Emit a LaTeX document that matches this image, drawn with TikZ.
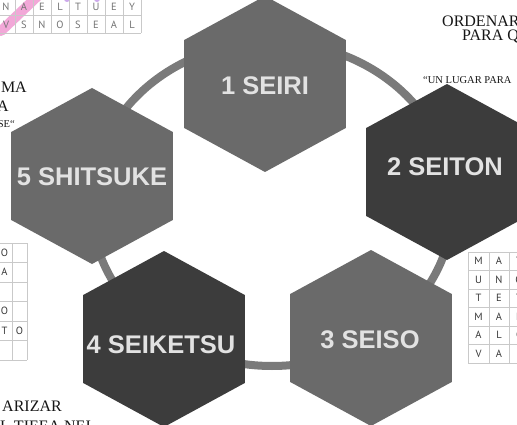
\documentclass[tikz,border=0pt]{standalone}
\usepackage{fontspec}
\setmainfont{Liberation Serif}
\setsansfont{Liberation Sans}
\newfontfamily\gridfont{PT Sans}
\usepackage{xcolor}
\usetikzlibrary{shapes.geometric}
\definecolor{ink}{HTML}{161616}
\definecolor{hexmid}{HTML}{6A6A6A}
\definecolor{hexdark}{HTML}{3C3C3C}
\definecolor{ring}{HTML}{7A7A7A}
\definecolor{hextext}{HTML}{E2E2E2}
\definecolor{gridline}{HTML}{C9C9C9}
\definecolor{gridink}{HTML}{383838}
\definecolor{pinkmark}{HTML}{F2A8D8}
\definecolor{violetmark}{HTML}{CDA8EC}

\begin{document}
\begin{tikzpicture}[
  x=1pt,y=-1pt,
  hexa/.style={regular polygon,regular polygon sides=6,shape border rotate=30,minimum size=176pt,inner sep=0pt,xscale=1.06,transform shape},
  hexlabel/.style={font=\sffamily\bfseries\fontsize{25.5}{28}\selectfont,text=hextext,inner sep=0pt},
  word/.style={font=\rmfamily\fontsize{16}{18}\selectfont,text=ink,inner sep=0pt},
  smallword/.style={font=\rmfamily\fontsize{10.5}{12}\selectfont,text=ink,inner sep=0pt},
  letter/.style={font=\gridfont\fontsize{10.5}{12}\selectfont,text=gridink,inner sep=0pt},
  gridrule/.style={draw=gridline,line width=.7pt}
]
\useasboundingbox (0,0) rectangle (517,425);
\clip (0,0) rectangle (517,425);
\fill[white] (0,0) rectangle (517,425);

% word search, top left
\draw[pinkmark,line width=10pt,line cap=round] (1,31) -- (42,-8);
\fill[violetmark] (67,-1) circle (3pt) (97,-1) circle (3pt);
\foreach \c in {0,...,8}{\draw[gridrule] (18*\c-3,-3) -- (18*\c-3,33);}
\draw[gridrule] (-3,15) -- (141,15) (-3,33) -- (141,33);
\foreach \l [count=\i from 0] in {N,A,E,L,T,U,E,Y}{\node[letter,text=gridink!70] (wa\i) at (6+18*\i,7) {\l};}
\foreach \l [count=\i from 0] in {V,S,N,O,S,E,A,L}{\node[letter,text=gridink!70] (wb\i) at (6+18*\i,25) {\l};}

% word search, left edge
\foreach \x in {12,27}{\draw[gridrule] (\x,243) -- (\x,360);}
\foreach \y in {243,262.5,282,301.5,321,340.5,360}{\draw[gridrule] (-3,\y) -- (27,\y);}
\foreach \l/\x/\y [count=\i] in {O/4.5/253,A/4.5/272,O/4.5/311,T/4.5/331,O/19.5/331}{\node[letter] (wl\i) at (\x,\y) {\l};}

% word search, right edge
\foreach \x in {468,489,509}{\draw[gridrule] (\x,252) -- (\x,363);}
\foreach \y in {252,270.5,289,307.5,326,344.5,363}{\draw[gridrule] (468,\y) -- (520,\y);}
\foreach \a/\b/\c [count=\i] in {M/A/T,U/N/O,T/E/T,M/A/E,A/L/C,V/A/{}}{
  \node[letter] (wra\i) at (478.5,242.5+18.5*\i) {\a};
  \node[letter] (wrb\i) at (499,242.5+18.5*\i) {\b};
  \node[letter] (wrc\i) at (519,242.5+18.5*\i) {\c};
}

% side texts
\node[word,anchor=east] (lefta) at (27,87) {MA};
\node[word,anchor=east] (leftb) at (9,106) {A};
\node[smallword,anchor=east] (leftc) at (15,124) {SE“};
\node[word,anchor=west] (righta) at (442,21) {ORDENAR};
\node[word,anchor=west] (rightb) at (462,37) {PARA Q};
\node[smallword,anchor=west] (rightc) at (423,80) {“UN LUGAR PARA};
\node[word,anchor=east] (bottoma) at (62,406) {ARIZAR};
\node[word,anchor=base west] (bottomb) at (0,431) {L TIEEA NEI};

% ring behind the five S
\draw[ring,line width=8pt] (272,204) ellipse [x radius=181pt,y radius=162pt];

% the five S
\node[hexa,fill=hexmid] (seiri) at (265,84) {};
\node[hexa,fill=hexdark] (seiton) at (447,172) {};
\node[hexa,fill=hexmid] (seiso) at (371,338) {};
\node[hexa,fill=hexdark] (seiketsu) at (164,339) {};
\node[hexa,fill=hexmid] (shitsuke) at (92,176) {};
\node[hexlabel] (seiri-t) at (265,86) {1 SEIRI};
\node[hexlabel] (seiton-t) at (445,167) {2 SEITON};
\node[hexlabel] (seiso-t) at (370,340) {3 SEISO};
\node[hexlabel] (seiketsu-t) at (161,345) {4 SEIKETSU};
\node[hexlabel] (shitsuke-t) at (92,177) {5 SHITSUKE};
\end{tikzpicture}
\end{document}
